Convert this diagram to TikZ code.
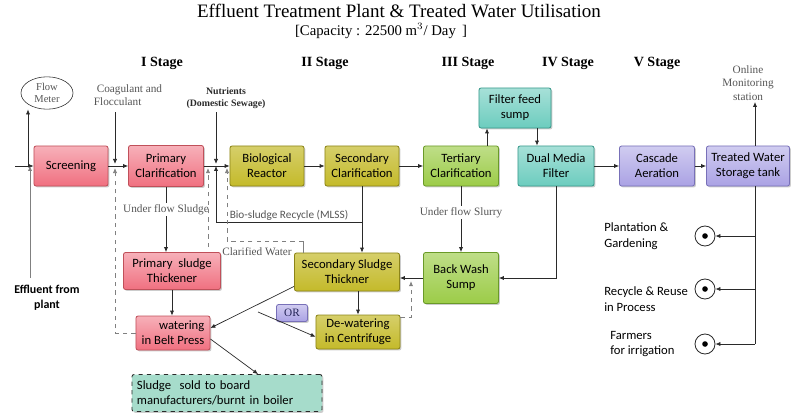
\documentclass[tikz,border=0pt]{standalone}
\usepackage{fontspec}
\setmainfont{Liberation Serif}
\newfontfamily\boxfont{Carlito}
\usetikzlibrary{arrows.meta,positioning,shapes.geometric,shadows}
\definecolor{Pink}{HTML}{F07080}
\definecolor{PinkLine}{HTML}{C0505A}
\definecolor{Olive}{HTML}{C4BA2A}
\definecolor{OliveLine}{HTML}{8C8418}
\definecolor{Leaf}{HTML}{9CCC48}
\definecolor{LeafLine}{HTML}{6A9A28}
\definecolor{Aqua}{HTML}{6CCCBE}
\definecolor{AquaLine}{HTML}{3A9A8C}
\definecolor{Lilac}{HTML}{AAA2E4}
\definecolor{LilacLine}{HTML}{7870B8}
\definecolor{Mint}{HTML}{A6DCCB}
\definecolor{Ink}{HTML}{2A2A2A}
\definecolor{NoteGray}{HTML}{555555}

\begin{document}
\begin{tikzpicture}[x=0.025cm, y=-0.025cm,
  pbox/.style={rounded corners=1.5pt, minimum width=1.875cm, minimum height=1cm,
               inner sep=1pt, align=center, font=\boxfont\fontsize{9}{10.5}\selectfont,
               line width=0.6pt,
               drop shadow={shadow xshift=1pt, shadow yshift=-1pt, opacity=0.4}},
  pinkbox/.style={pbox, draw=PinkLine, top color=Pink!55!white, bottom color=Pink},
  olivebox/.style={pbox, draw=OliveLine, top color=Olive!70!white, bottom color=Olive},
  leafbox/.style={pbox, draw=LeafLine, top color=Leaf!65!white, bottom color=Leaf},
  aquabox/.style={pbox, draw=AquaLine, top color=Aqua!60!white, bottom color=Aqua},
  lilacbox/.style={pbox, draw=LilacLine, top color=Lilac!55!white, bottom color=Lilac},
  flow/.style={->, draw=Ink, line width=0.5pt},
  back/.style={->, draw=gray, dashed, line width=0.5pt},
  note/.style={font=\fontsize{7.5}{9}\selectfont, text=NoteGray, align=center, inner sep=1pt},
  stage/.style={font=\bfseries\fontsize{10}{12}\selectfont},
  uselabel/.style={font=\boxfont\fontsize{9}{11}\selectfont, align=left, anchor=west, inner sep=0pt},
  target/.style={circle, draw=Ink, line width=0.6pt, minimum size=0.5cm, inner sep=0pt,
                 path picture={\fill[black] (path picture bounding box.center) circle (0.07cm);}},
  >={Latex[length=3.5pt,width=3pt]}
]
\useasboundingbox (0,0) rectangle (800,414);

% titles
\node[font=\fontsize{13.5}{15}\selectfont] (title) at (399,11)
  {Effluent Treatment Plant \& Treated Water Utilisation};
\node[font=\fontsize{10.5}{12}\selectfont] (cap) at (381,31)
  {[Capacity : 22500 m$^3$/ Day \,]};
\node[stage] (st1) at (162,63) {I Stage};
\node[stage] (st2) at (325,63) {II Stage};
\node[stage] (st3) at (468,63) {III Stage};
\node[stage] (st4) at (568,63) {IV Stage};
\node[stage] (st5) at (657,63) {V Stage};

% main line
\node[pinkbox, minimum width=1.85cm] (scr) at (71,166) {Screening};
\node[pinkbox, minimum height=1.025cm] (pc) at (166,166) {Primary\\Clarification};
\node[olivebox, minimum width=1.85cm] (br) at (267,166) {Biological\\Reactor};
\node[olivebox, minimum width=1.85cm] (sc) at (362,166) {Secondary\\Clarification};
\node[leafbox] (tc) at (461,166) {Tertiary\\Clarification};
\node[aquabox, minimum width=1.8cm] (ffs) at (515,108) {Filter feed\\sump};
\node[aquabox, minimum width=1.9cm] (dmf) at (556,166) {Dual Media\\Filter};
\node[lilacbox] (ca) at (657,166) {Cascade\\Aeration};
\node[lilacbox, minimum width=2.075cm] (tws) at (748,166) {Treated Water\\Storage tank};

% sludge line
\node[pinkbox, minimum width=2.425cm, minimum height=0.925cm] (pst) at (172,271) {Primary\ \ sludge\\Thickener};
\node[olivebox, minimum width=2.625cm, minimum height=0.95cm] (sst) at (347,272) {Secondary Sludge\\Thickner};
\node[leafbox, minimum height=1.275cm] (bws) at (461,278) {Back Wash\\Sump};
\node[olivebox, minimum width=2.1cm, minimum height=0.85cm] (dwc) at (358,332) {De-watering\\in Centrifuge};
\node[pinkbox, minimum width=1.85cm, minimum height=0.85cm, align=right] (bp) at (173,333) {watering\\in Belt Press};
\node[lilacbox, minimum width=0.775cm, minimum height=0.425cm, font=\fontsize{8}{9}\selectfont, text=Ink!80!blue] (or) at (292,313) {OR};
\node[pbox, draw=Ink, dashed, fill=Mint, minimum width=4.75cm, minimum height=0.925cm,
      align=left, text width=4.5cm, drop shadow={opacity=0}] (ssb) at (227,393)
  {Sludge\ \ sold to board\\manufacturers/burnt in boiler};

% side texts
\node[ellipse, draw=Ink, minimum width=1.3cm, minimum height=0.75cm, inner sep=0pt, note] (fm) at (47,93) {Flow\\Meter};
\node[note, font=\fontsize{8}{9.5}\selectfont, align=left] (coag) at (128,95) {\ Coagulant and\\Flocculant};
\node[note, text=Ink, font=\bfseries\fontsize{7}{9}\selectfont] (nutr) at (226,98) {Nutrients\\(Domestic Sewage)};
\node[note, font=\fontsize{8}{9.5}\selectfont] (olm) at (748,83) {Online\\Monitoring\\station};
\node[font=\boxfont\bfseries\fontsize{8.5}{11}\selectfont, align=center] (eff) at (47,298) {Effluent from\\plant};

% utilisation
\node[target] (t1) at (705,236) {};
\node[target] (t2) at (705,289) {};
\node[target] (t3) at (705,344) {};
\node[uselabel] (u1) at (604,236) {Plantation \&\\Gardening};
\node[uselabel] (u2) at (604,299) {Recycle \& Reuse\\in Process};
\node[uselabel] (u3) at (610,344) {Farmers\\for irrigation};

% free ends
\coordinate (inl) at (15,166);
\coordinate (effl) at (30,278);
\coordinate (fmb) at (28,166);
\coordinate (cg) at (115,112);
\coordinate (nu) at (216,112);
\coordinate (rc) at (216,222);
\coordinate (cwl) at (227,241);
\coordinate (cwr) at (303,241);
\coordinate (cx) at (208,247);
\coordinate (cr) at (411,317);
\coordinate (orl) at (258,312);
\coordinate (tap) at (755,344);

% main flow
\draw[flow] (inl) -- (scr.west);
\draw[flow, draw=gray] (effl) -- (effl |- scr.west);
\draw[flow] (fmb) -- (fm.south -| fmb);
\draw[flow] (scr) -- (pc);
\draw[flow, shorten >=1.5pt] (cg) -- (cg |- pc.west);
\draw[flow] (pc) -- (br);
\draw[flow, shorten >=1.5pt] (nu) -- (nu |- br.west);
\draw[flow] (br) -- (sc);
\draw[flow] (sc) -- (tc);
\draw[flow] ([xshift=0.65cm]tc.north) -- ([xshift=0.65cm]tc.north |- ffs.south);
\draw[flow] ([xshift=0.55cm]ffs.south) -- ([xshift=0.55cm]ffs.south |- dmf.north);
\draw[flow] (dmf) -- (ca);
\draw[flow] (ca) -- (tws);
\draw[flow] ([xshift=0.175cm]tws.north) -- ([xshift=0.175cm]tws.north |- olm.south);

% sludge flow
\draw[flow] (pc.south) -- node[note, fill=white, font=\fontsize{8}{9}\selectfont, pos=0.35] {Under flow Sludge} (pc.south |- pst.north);
\draw[flow] (pst) -- (pst |- bp.north);
\draw[flow] (sc) -- (sc |- sst.north);
\draw[flow] (sc.south |- rc) -- node[above, note, font=\boxfont\fontsize{8}{9}\selectfont] {Bio-sludge Recycle (MLSS)} (rc) -- (rc |- br.west);
\draw[flow] (tc) -- node[note, fill=white, font=\fontsize{8}{9}\selectfont, pos=0.4] {Under flow Slurry} (bws);
\draw[flow] (dmf.south) |- (bws.east);
\draw[flow] (bws.west) -- (bws.west -| sst.east);
\draw[flow] (dwc.north |- sst.south) -- (dwc.north);
\draw[flow] ([yshift=0.125cm]sst.south west) -- ([yshift=0.125cm]bp.east);
\draw[flow] (orl) -- ([yshift=-0.12cm]dwc.west);
\draw[flow] ([yshift=-0.15cm]bp.east) -- ([xshift=0.775cm]ssb.north);

% recycle lines
\draw[back, shorten >=1.5pt] (bp.west) -| (cg |- pc.west);
\draw[back, shorten >=1.5pt] (cx) -- (cx |- pc.east);
\draw[draw=gray, line width=0.5pt] (sst.north -| cwr) -- (cwr);
\draw[back, shorten >=1.5pt] (cwr) -- (cwl) -- (cwl |- br.west);
\node[note, font=\fontsize{8}{9}\selectfont] (cwt) at (257,252) {Clarified Water};
\draw[back] (dwc.east |- cr) -- (cr) -- ([yshift=-0.08cm]cr |- bws.west);

% treated water use
\draw[flow, -] (tws.south -| tap) -- (tap);
\draw[flow] (t1 -| tap) -- (t1);
\draw[flow] (t2 -| tap) -- (t2);
\draw[flow] (tap) -- (t3);
\end{tikzpicture}
\end{document}
